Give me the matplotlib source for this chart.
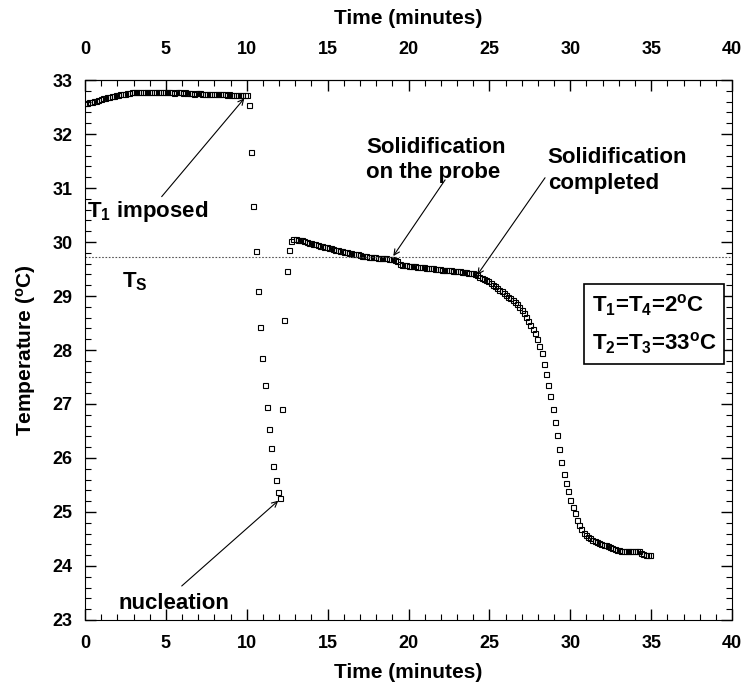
import numpy as np
import matplotlib
matplotlib.use('Agg')
import matplotlib.pyplot as plt
from matplotlib.ticker import MultipleLocator, FixedLocator

plt.rcParams['font.family'] = ['Liberation Sans', 'DejaVu Sans']
plt.rcParams['font.weight'] = 'bold'
plt.rcParams['mathtext.fontset'] = 'custom'
plt.rcParams['mathtext.rm'] = 'Liberation Sans:bold'
plt.rcParams['mathtext.it'] = 'Liberation Sans:bold'
plt.rcParams['mathtext.bf'] = 'Liberation Sans:bold'

# sampling interval of the probe (minutes)
sample_step = 0.137

# before T1 is imposed
temp_warm = [32.57, 32.58, 32.59, 32.60, 32.61, 32.62, 32.63, 32.65, 32.66, 32.67,
             32.68, 32.69, 32.70, 32.71, 32.72, 32.73, 32.74, 32.74, 32.75, 32.76,
             32.76, 32.77, 32.77,
             32.78, 32.78, 32.77, 32.78, 32.78, 32.78, 32.77, 32.78, 32.78, 32.78,
             32.77, 32.78, 32.78, 32.77, 32.77,
             32.77, 32.77, 32.76, 32.77, 32.77, 32.77, 32.76, 32.77,
             32.76, 32.76, 32.76, 32.75, 32.76, 32.76, 32.76, 32.75,
             32.75, 32.75, 32.75, 32.74, 32.75, 32.75, 32.74,
             32.74, 32.74, 32.74, 32.73, 32.74, 32.73,
             32.73, 32.73, 32.73, 32.72,
             32.72, 32.72, 32.72]

# supercooling, nucleation and recalescence
temp_drop = [32.54, 31.67, 30.67, 29.83, 29.09, 28.43, 27.86, 27.36, 26.94, 26.54,
             26.19, 25.86, 25.59, 25.37, 25.25, 26.90, 28.55, 29.46, 29.86, 30.01]

# solidification and cooling
temp_cool = [30.05, 30.05, 30.04, 30.03, 30.03, 30.02, 30.00, 29.99, 29.98, 29.97,
             29.96, 29.95, 29.93, 29.92, 29.91, 29.90, 29.89, 29.88, 29.87, 29.86,
             29.85, 29.84, 29.83, 29.82, 29.81, 29.80, 29.79, 29.78, 29.77, 29.77,
             29.76, 29.75, 29.75, 29.74, 29.73, 29.73, 29.72, 29.72, 29.71, 29.71,
             29.70, 29.70, 29.70, 29.69, 29.69, 29.69, 29.67, 29.64, 29.60, 29.58,
             29.57, 29.57, 29.56, 29.56, 29.55, 29.55, 29.54, 29.54, 29.53, 29.53,
             29.52, 29.52, 29.51, 29.51, 29.50, 29.50, 29.50, 29.49, 29.49, 29.48,
             29.48, 29.48, 29.47, 29.47, 29.46, 29.46, 29.45, 29.45, 29.44, 29.43,
             29.43, 29.42, 29.40, 29.38, 29.36, 29.34, 29.32, 29.30, 29.27, 29.24,
             29.21, 29.18, 29.15, 29.12, 29.09, 29.06, 29.02, 28.99, 28.96, 28.93,
             28.89, 28.85, 28.80, 28.74, 28.68, 28.61, 28.54, 28.47, 28.39, 28.31,
             28.20, 28.08, 27.95, 27.74, 27.55, 27.35, 27.14, 26.90, 26.67, 26.43,
             26.17, 25.93, 25.70, 25.53, 25.38, 25.22, 25.10, 24.98, 24.86, 24.76,
             24.68, 24.62, 24.58, 24.54, 24.51, 24.48, 24.46, 24.44, 24.42, 24.40,
             24.39, 24.38, 24.37, 24.36, 24.34, 24.32, 24.30, 24.29, 24.28, 24.28,
             24.27, 24.27, 24.27, 24.27, 24.28, 24.28, 24.27, 24.24, 24.22, 24.21,
             24.21, 24.20]

T_solid = 29.72
time_ticks = [0, 5, 10, 15, 20, 25, 30, 35, 40]

temperature = np.array(temp_warm + temp_drop + temp_cool)
time = np.arange(len(temperature)) * sample_step

fig = plt.figure(figsize=(7.45, 6.85), dpi=100)
ax = fig.add_axes([0.1141, 0.0949, 0.8685, 0.7883])

ax.plot(time, temperature, 's', ms=3.6, mfc='none', mec='black', mew=0.8)
ax.axhline(T_solid, color='#555555', ls=(0, (1.5, 1.5)), lw=0.8)

ax.set_xlim(0, 40)
ax.set_ylim(23, 33)
ax.xaxis.set_major_locator(FixedLocator(time_ticks))
ax.xaxis.set_minor_locator(MultipleLocator(1))
ax.yaxis.set_major_locator(MultipleLocator(1))
ax.yaxis.set_minor_locator(MultipleLocator(0.2))
ax.tick_params(which='both', direction='in', right=True, top=False, labelsize=13)
ax.tick_params(which='major', length=8, width=1)
ax.tick_params(which='minor', length=4, width=0.8)
ax.tick_params(axis='x', pad=11)
ax.tick_params(axis='y', pad=9)
ax.set_xlabel('Time (minutes)', fontsize=15, fontweight='bold', labelpad=8)
ax.set_ylabel('Temperature ($^{\\rm o}$C)', fontsize=15, fontweight='bold', labelpad=10)

top = ax.secondary_xaxis('top')
top.xaxis.set_major_locator(FixedLocator(time_ticks))
top.xaxis.set_minor_locator(FixedLocator(range(0, 41)))
top.tick_params(which='both', direction='in', labelsize=13, pad=16)
top.tick_params(which='major', length=8, width=1)
top.tick_params(which='minor', length=4, width=0.8)
top.set_xlabel('Time (minutes)', fontsize=15, fontweight='bold', labelpad=12)

arrow = dict(arrowstyle='->', color='black', lw=0.8, shrinkA=0, shrinkB=0)
ax.annotate('', xy=(9.85, 32.66), xytext=(4.74, 30.84), arrowprops=arrow)
ax.text(0.12, 30.56, 'T$_1$ imposed', fontsize=16, fontweight='bold', va='center')
ax.text(2.3, 29.26, 'T$_{\\rm S}$', fontsize=16, fontweight='bold', va='center')

ax.annotate('', xy=(19.06, 29.74), xytext=(22.26, 31.15), arrowprops=arrow)
ax.text(17.4, 31.52, 'Solidification\non the probe', fontsize=16, fontweight='bold',
        va='center', ha='left', linespacing=1.3)

ax.annotate('', xy=(24.25, 29.39), xytext=(28.44, 31.19), arrowprops=arrow)
ax.text(28.6, 31.32, 'Solidification\ncompleted', fontsize=16, fontweight='bold',
        va='center', ha='left', linespacing=1.3)

ax.annotate('', xy=(11.95, 25.21), xytext=(5.98, 23.63), arrowprops=arrow)
ax.text(2.1, 23.31, 'nucleation', fontsize=16, fontweight='bold', va='center')

ax.text(31.35, 28.48, 'T$_1$=T$_4$=2$^{\\rm o}$C\nT$_2$=T$_3$=33$^{\\rm o}$C',
        fontsize=16, fontweight='bold', va='center', ha='left', linespacing=1.65,
        bbox=dict(boxstyle='square,pad=0.35', fc='white', ec='black', lw=1.2))

fig.savefig('out.png', dpi=100)
